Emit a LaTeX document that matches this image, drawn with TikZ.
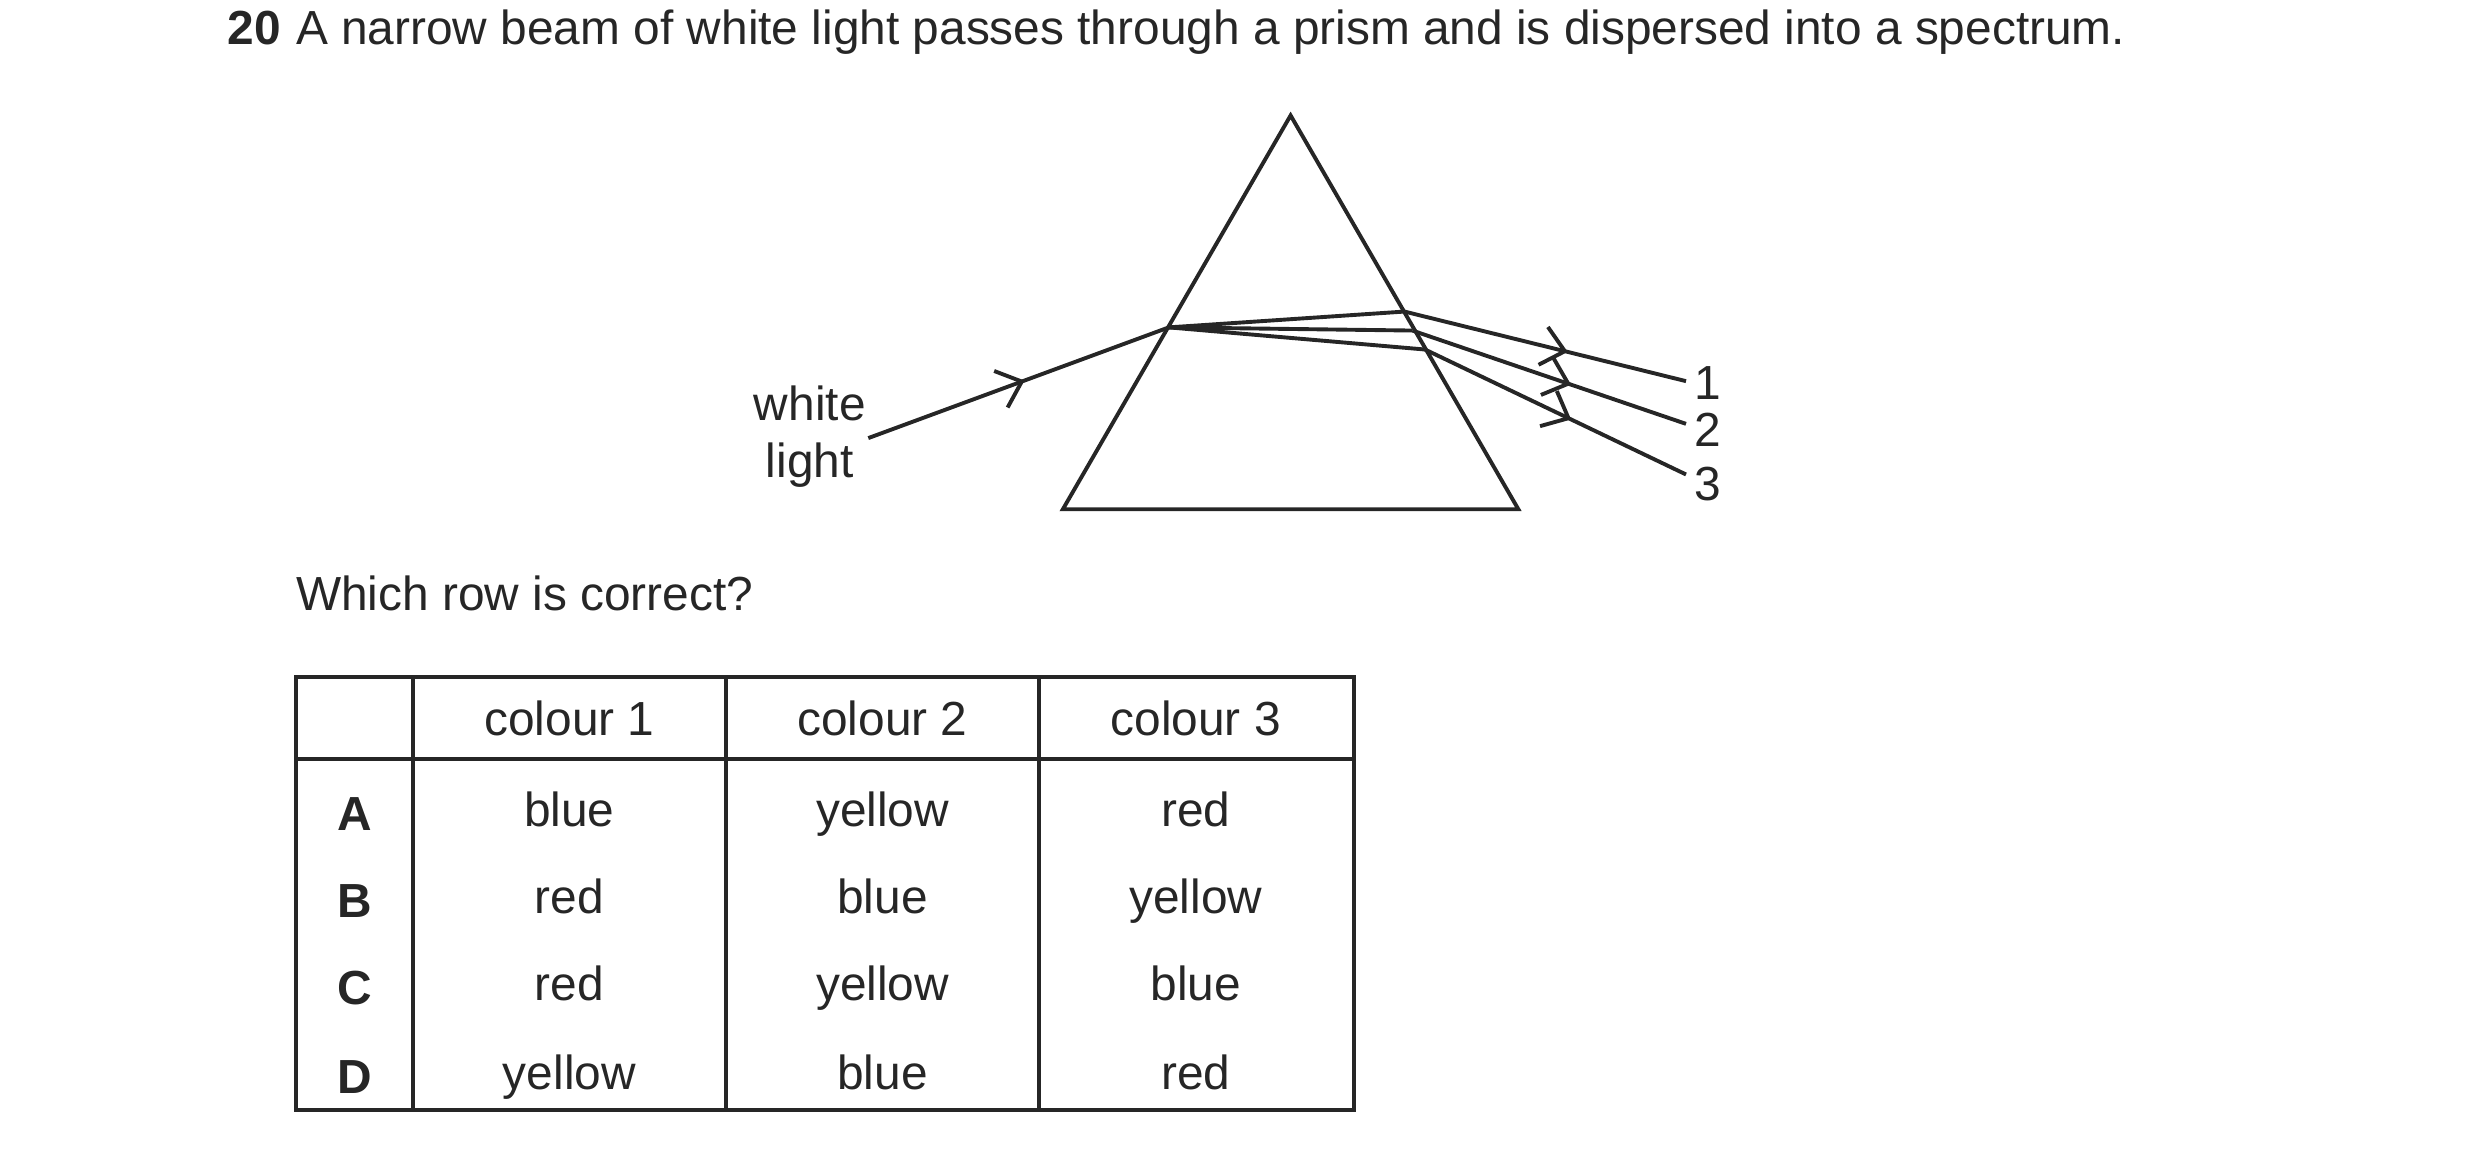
\documentclass[tikz,border=0pt]{standalone}
\usepackage{fontspec}
\setmainfont{Liberation Sans}
\usetikzlibrary{arrows.meta,decorations.markings}
\begin{document}
\begin{tikzpicture}[x=0.01cm, y=-0.01cm, line width=0.7pt, color={black!85}, font=\fontsize{8.6}{10}\selectfont]
			% Define styles
			\tikzset{ray/.style={postaction={decorate}, decoration={markings, mark=at position #1 with {\arrow{Straight Barb[length=4pt,width=7pt]}}}}}
			\tikzset{cell/.style={anchor=center}}
			\useasboundingbox (0,0) rectangle (1568,728);
			
			% Question
			\node (num) [anchor=base west, font=\fontsize{8.6}{10}\selectfont\bfseries] at (131,28) {20};
			\node (title) [anchor=base west, inner sep=0] at (186,28) {A narrow beam of white light passes through a prism and is dispersed into a spectrum.};
			
			% Prism
			\coordinate (apex) at (816,73);
			\coordinate (bl) at (672,322);
			\coordinate (br) at (960,322);
			\draw (apex) -- (bl) -- (br) -- cycle;
			
			% Rays
			\coordinate (src) at (549,277);
			\coordinate (in) at (739,207);
			\coordinate (out1) at (888,197);
			\coordinate (out2) at (893,209);
			\coordinate (out3) at (901,221);
			\coordinate (end1) at (1066,241);
			\coordinate (end2) at (1066,268);
			\coordinate (end3) at (1066,300);
			\draw [ray=0.52] (src) -- (in);
			\draw (in) -- (out1);
			\draw (in) -- (out2);
			\draw (in) -- (out3);
			\draw [ray=0.58] (out1) -- (end1);
			\draw [ray=0.58] (out2) -- (end2);
			\draw [ray=0.56] (out3) -- (end3);
			\node (white) [align=center, font=\fontsize{8.6}{10.2}\selectfont] at (512,276) {white\\light};
			\node (l1) at (1080,242) {1};
			\node (l2) at (1080,272) {2};
			\node (l3) at (1080,306) {3};
			
			% Table
			\node (ask) [anchor=base west, inner sep=0] at (186,386) {Which row is correct?};
			\draw (187,428) rectangle (856,702);
			\draw (187,480) -- (856,480);
			\foreach \x in {261,459,657} \draw (\x,428) -- (\x,702);
			\node (h1) [cell] at (360,454) {colour 1};
			\node (h2) [cell] at (558,454) {colour 2};
			\node (h3) [cell] at (756,454) {colour 3};
			\foreach \y/\k/\a/\b/\c in {515/A/blue/yellow/red, 570/B/red/blue/yellow, 625/C/red/yellow/blue, 681/D/yellow/blue/red} {
				\node (row\k) [cell, font=\fontsize{8.6}{10}\selectfont\bfseries] at (224,\y) {\k};
				\node (a\k) [cell] at (360,\y) {\vphantom{y}\a};
				\node (b\k) [cell] at (558,\y) {\vphantom{y}\b};
				\node (c\k) [cell] at (756,\y) {\vphantom{y}\c};
			}
		\end{tikzpicture}
\end{document}
